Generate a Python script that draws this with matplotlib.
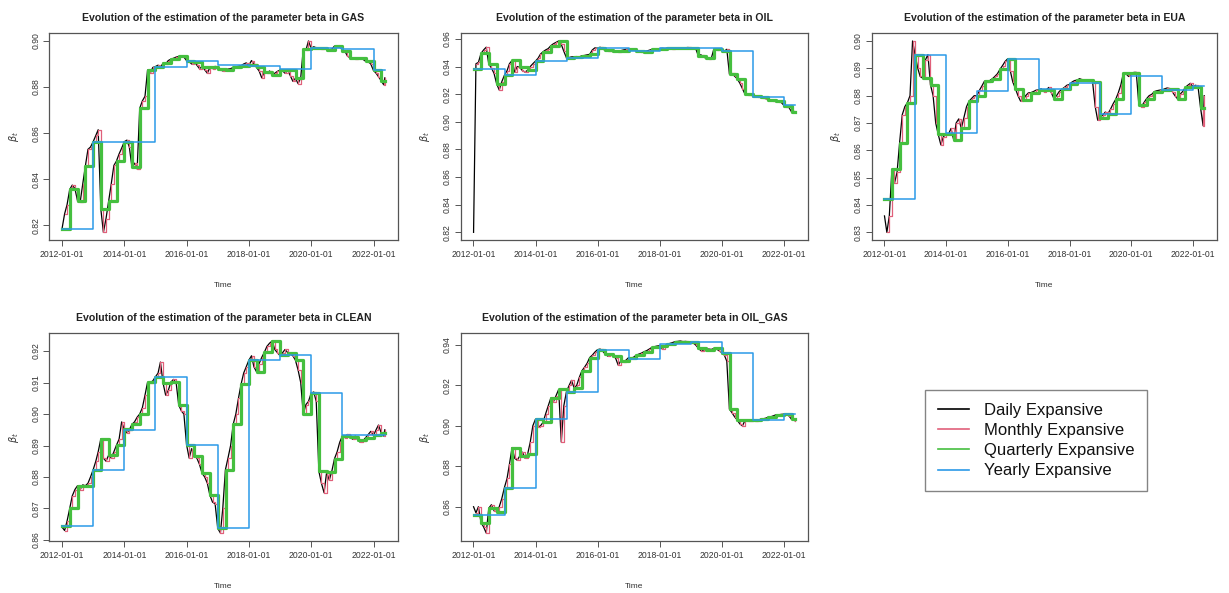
import numpy as np
import pandas as pd
import matplotlib
matplotlib.use('Agg')
import matplotlib.pyplot as plt
import matplotlib.dates as mdates
from matplotlib.lines import Line2D
from matplotlib.ticker import MultipleLocator, FormatStrFormatter

plt.rcParams['font.family'] = ['Liberation Sans', 'DejaVu Sans']

# first observation, month ends, last observation
daily_dates = (pd.DatetimeIndex(['2012-01-03'])
               .append(pd.date_range('2012-01-31', '2022-04-30', freq='ME'))
               .append(pd.DatetimeIndex(['2022-05-13'])))
quarter_dates = (pd.DatetimeIndex(['2012-01-03'])
                 .append(pd.date_range('2012-04-01', '2022-04-01', freq='QS')))
year_dates = (pd.DatetimeIndex(['2012-01-03'])
              .append(pd.date_range('2013-01-01', '2022-01-01', freq='YS')))
end_date = pd.Timestamp('2022-05-13')

# ---------------- GAS ----------------
gas_daily = [
    0.8190,
    0.8250, 0.8290, 0.8356, 0.8375, 0.8360, 0.8308, 0.8300, 0.8380, 0.8456, 0.8530, 0.8540, 0.8563,
    0.8590, 0.8615, 0.8271, 0.8170, 0.8230, 0.8304, 0.8380, 0.8460, 0.8479, 0.8510, 0.8535, 0.8563,
    0.8570, 0.8540, 0.8452, 0.8470, 0.8445, 0.8708, 0.8740, 0.8760, 0.8874, 0.8860, 0.8885, 0.8889,
    0.8895, 0.8885, 0.8904, 0.8900, 0.8915, 0.8921, 0.8925, 0.8930, 0.8933, 0.8935, 0.8930, 0.8915,
    0.8910, 0.8900, 0.8910, 0.8895, 0.8880, 0.8889, 0.8875, 0.8860, 0.8885, 0.8880, 0.8890, 0.8878,
    0.8875, 0.8870, 0.8872, 0.8878, 0.8880, 0.8885, 0.8888, 0.8890, 0.8893, 0.8900, 0.8905, 0.8895,
    0.8915, 0.8900, 0.8885, 0.8870, 0.8840, 0.8866, 0.8860, 0.8870, 0.8852, 0.8860, 0.8868, 0.8874,
    0.8870, 0.8860, 0.8873, 0.8850, 0.8825, 0.8838, 0.8815, 0.8840, 0.8965, 0.8960, 0.9000, 0.8968,
    0.8975, 0.8970, 0.8968, 0.8965, 0.8970, 0.8962, 0.8962, 0.8965, 0.8978, 0.8975, 0.8980, 0.8958,
    0.8955, 0.8935, 0.8927, 0.8925, 0.8922, 0.8926, 0.8924, 0.8920, 0.8912, 0.8910, 0.8900, 0.8872,
    0.8860, 0.8845, 0.8828, 0.8810, 0.8840,
]
gas_quarterly = [
    0.8185, 0.8356, 0.8308, 0.8456,
    0.8563, 0.8271, 0.8304, 0.8479,
    0.8563, 0.8452, 0.8708, 0.8874,
    0.8889, 0.8904, 0.8921, 0.8933,
    0.8915, 0.8910, 0.8889, 0.8885,
    0.8878, 0.8872, 0.8885, 0.8893,
    0.8895, 0.8885, 0.8866, 0.8852,
    0.8874, 0.8873, 0.8838, 0.8965,
    0.8968, 0.8968, 0.8962, 0.8978,
    0.8958, 0.8927, 0.8926, 0.8912,
    0.8872, 0.8828,
]
gas_yearly = [0.8185, 0.8563, 0.8563, 0.8889, 0.8915, 0.8895,
              0.8893, 0.8878, 0.8970, 0.8963, 0.8873]

# ---------------- OIL ----------------
oil_daily = [
    0.8200,
    0.9420, 0.9430, 0.9495, 0.9520, 0.9540, 0.9417, 0.9390, 0.9350, 0.9276, 0.9230, 0.9290, 0.9337,
    0.9370, 0.9420, 0.9444, 0.9360, 0.9400, 0.9393, 0.9370, 0.9360, 0.9373, 0.9400, 0.9420, 0.9439,
    0.9460, 0.9490, 0.9507, 0.9520, 0.9530, 0.9551, 0.9565, 0.9575, 0.9585, 0.9560, 0.9510, 0.9463,
    0.9465, 0.9470, 0.9471, 0.9472, 0.9470, 0.9478, 0.9480, 0.9485, 0.9488, 0.9520, 0.9535, 0.9532,
    0.9540, 0.9525, 0.9520, 0.9515, 0.9512, 0.9512, 0.9510, 0.9505, 0.9515, 0.9520, 0.9525, 0.9527,
    0.9525, 0.9520, 0.9515, 0.9510, 0.9505, 0.9507, 0.9512, 0.9518, 0.9524, 0.9526, 0.9528, 0.9530,
    0.9532, 0.9530, 0.9532, 0.9533, 0.9530, 0.9532, 0.9533, 0.9534, 0.9534, 0.9536, 0.9538, 0.9532,
    0.9535, 0.9530, 0.9478, 0.9485, 0.9470, 0.9459, 0.9455, 0.9460, 0.9527, 0.9520, 0.9525, 0.9515,
    0.9510, 0.9525, 0.9346, 0.9350, 0.9330, 0.9312, 0.9280, 0.9240, 0.9200, 0.9195, 0.9192, 0.9190,
    0.9185, 0.9182, 0.9176, 0.9172, 0.9168, 0.9159, 0.9155, 0.9152, 0.9149, 0.9145, 0.9140, 0.9120,
    0.9110, 0.9105, 0.9073, 0.9075, 0.9072,
]
oil_quarterly = [
    0.9380, 0.9495, 0.9417, 0.9276,
    0.9337, 0.9444, 0.9393, 0.9373,
    0.9439, 0.9507, 0.9551, 0.9585,
    0.9463, 0.9471, 0.9478, 0.9488,
    0.9532, 0.9520, 0.9512, 0.9515,
    0.9527, 0.9515, 0.9507, 0.9524,
    0.9530, 0.9532, 0.9532, 0.9534,
    0.9532, 0.9478, 0.9459, 0.9527,
    0.9515, 0.9346, 0.9312, 0.9200,
    0.9190, 0.9176, 0.9159, 0.9149,
    0.9117, 0.9073,
]
oil_yearly = [0.9380, 0.9339, 0.9441, 0.9463, 0.9532, 0.9515,
              0.9532, 0.9532, 0.9512, 0.9183, 0.9122]

# ---------------- EUA ----------------
eua_daily = [
    0.8360,
    0.8300, 0.8360, 0.8531, 0.8480, 0.8520, 0.8628, 0.8730, 0.8760, 0.8774, 0.8800, 0.9000, 0.8948,
    0.8900, 0.8870, 0.8864, 0.8930, 0.8950, 0.8840, 0.8800, 0.8700, 0.8658, 0.8620, 0.8650, 0.8658,
    0.8660, 0.8680, 0.8639, 0.8700, 0.8715, 0.8680, 0.8720, 0.8760, 0.8780, 0.8790, 0.8800, 0.8799,
    0.8820, 0.8835, 0.8853, 0.8850, 0.8855, 0.8861, 0.8870, 0.8880, 0.8896, 0.8910, 0.8925, 0.8935,
    0.8890, 0.8850, 0.8826, 0.8800, 0.8780, 0.8784, 0.8800, 0.8810, 0.8811, 0.8815, 0.8820, 0.8821,
    0.8825, 0.8815, 0.8821, 0.8830, 0.8810, 0.8789, 0.8800, 0.8815, 0.8823, 0.8830, 0.8838, 0.8841,
    0.8850, 0.8855, 0.8857, 0.8862, 0.8858, 0.8857, 0.8855, 0.8853, 0.8851, 0.8760, 0.8710, 0.8720,
    0.8730, 0.8740, 0.8734, 0.8750, 0.8770, 0.8786, 0.8810, 0.8840, 0.8883, 0.8880, 0.8870, 0.8878,
    0.8885, 0.8885, 0.8765, 0.8760, 0.8775, 0.8789, 0.8800, 0.8805, 0.8815, 0.8818, 0.8820, 0.8821,
    0.8825, 0.8828, 0.8826, 0.8815, 0.8800, 0.8789, 0.8805, 0.8815, 0.8830, 0.8838, 0.8845, 0.8833,
    0.8838, 0.8835, 0.8755, 0.8690, 0.8800,
]
eua_quarterly = [
    0.8422, 0.8531, 0.8628, 0.8774,
    0.8948, 0.8864, 0.8840, 0.8658,
    0.8658, 0.8639, 0.8680, 0.8780,
    0.8799, 0.8853, 0.8861, 0.8896,
    0.8935, 0.8826, 0.8784, 0.8811,
    0.8821, 0.8821, 0.8789, 0.8823,
    0.8841, 0.8857, 0.8857, 0.8851,
    0.8720, 0.8734, 0.8786, 0.8883,
    0.8883, 0.8765, 0.8789, 0.8815,
    0.8821, 0.8826, 0.8789, 0.8830,
    0.8833, 0.8755,
]
eua_yearly = [0.8422, 0.8948, 0.8662, 0.8816, 0.8935, 0.8823,
              0.8845, 0.8733, 0.8873, 0.8821, 0.8836]

# ---------------- CLEAN ----------------
clean_daily = [
    0.8640,
    0.8630, 0.8660, 0.8700, 0.8740, 0.8760, 0.8772, 0.8760, 0.8775, 0.8772, 0.8780, 0.8800, 0.8823,
    0.8850, 0.8880, 0.8921, 0.8860, 0.8850, 0.8869, 0.8860, 0.8880, 0.8901, 0.8920, 0.8975, 0.8951,
    0.8940, 0.8950, 0.8967, 0.8975, 0.8990, 0.9000, 0.9020, 0.9060, 0.9101, 0.9100, 0.9105, 0.9118,
    0.9130, 0.9165, 0.9098, 0.9060, 0.9075, 0.9101, 0.9110, 0.9100, 0.9029, 0.9010, 0.9000, 0.8903,
    0.8860, 0.8890, 0.8866, 0.8860, 0.8840, 0.8812, 0.8800, 0.8780, 0.8742, 0.8720, 0.8715, 0.8637,
    0.8622, 0.8700, 0.8823, 0.8860, 0.8900, 0.8967, 0.9000, 0.9050, 0.9094, 0.9130, 0.9150, 0.9171,
    0.9185, 0.9150, 0.9134, 0.9160, 0.9180, 0.9196, 0.9215, 0.9225, 0.9232, 0.9205, 0.9195, 0.9186,
    0.9195, 0.9205, 0.9195, 0.9190, 0.9185, 0.9171, 0.9140, 0.9100, 0.9000, 0.9030, 0.9040, 0.9066,
    0.9070, 0.9040, 0.8818, 0.8780, 0.8750, 0.8815, 0.8790, 0.8820, 0.8858, 0.8880, 0.8910, 0.8930,
    0.8925, 0.8935, 0.8927, 0.8920, 0.8930, 0.8917, 0.8910, 0.8915, 0.8925, 0.8935, 0.8945, 0.8932,
    0.8950, 0.8965, 0.8941, 0.8930, 0.8950,
]
clean_quarterly = [
    0.8643, 0.8700, 0.8772, 0.8772,
    0.8823, 0.8921, 0.8869, 0.8901,
    0.8951, 0.8967, 0.9000, 0.9101,
    0.9118, 0.9098, 0.9101, 0.9029,
    0.8903, 0.8866, 0.8812, 0.8742,
    0.8637, 0.8823, 0.8967, 0.9094,
    0.9171, 0.9134, 0.9196, 0.9232,
    0.9186, 0.9195, 0.9171, 0.9000,
    0.9066, 0.8818, 0.8815, 0.8858,
    0.8930, 0.8927, 0.8917, 0.8925,
    0.8932, 0.8941,
]
clean_yearly = [0.8643, 0.8823, 0.8948, 0.9118, 0.8903, 0.8637,
                0.9171, 0.9186, 0.9066, 0.8932, 0.8932]

# ---------------- OIL_GAS ----------------
oilgas_daily = [
    0.8600,
    0.8570, 0.8600, 0.8522, 0.8500, 0.8470, 0.8593, 0.8610, 0.8580, 0.8575, 0.8600, 0.8640, 0.8695,
    0.8740, 0.8810, 0.8893, 0.8840, 0.8830, 0.8852, 0.8870, 0.8840, 0.8860, 0.8920, 0.9000, 0.9033,
    0.8995, 0.9000, 0.9018, 0.9060, 0.9100, 0.9138, 0.9120, 0.9150, 0.9180, 0.8920, 0.9100, 0.9170,
    0.9200, 0.9225, 0.9188, 0.9200, 0.9240, 0.9272, 0.9290, 0.9310, 0.9338, 0.9350, 0.9365, 0.9377,
    0.9380, 0.9370, 0.9355, 0.9345, 0.9350, 0.9347, 0.9335, 0.9300, 0.9322, 0.9318, 0.9325, 0.9338,
    0.9335, 0.9340, 0.9350, 0.9355, 0.9360, 0.9367, 0.9372, 0.9380, 0.9388, 0.9392, 0.9395, 0.9397,
    0.9380, 0.9395, 0.9405, 0.9408, 0.9412, 0.9417, 0.9418, 0.9420, 0.9417, 0.9418, 0.9416, 0.9413,
    0.9410, 0.9400, 0.9385, 0.9372, 0.9375, 0.9377, 0.9380, 0.9378, 0.9383, 0.9380, 0.9372, 0.9363,
    0.9350, 0.9320, 0.9083, 0.9065, 0.9045, 0.9030, 0.9010, 0.9000, 0.9027, 0.9022, 0.9025, 0.9027,
    0.9025, 0.9028, 0.9033, 0.9035, 0.9038, 0.9043, 0.9045, 0.9050, 0.9055, 0.9055, 0.9057, 0.9058,
    0.9058, 0.9050, 0.9033, 0.9030, 0.9025,
]
oilgas_quarterly = [
    0.8558, 0.8522, 0.8593, 0.8575,
    0.8695, 0.8893, 0.8852, 0.8860,
    0.9033, 0.9018, 0.9138, 0.9180,
    0.9170, 0.9188, 0.9272, 0.9338,
    0.9377, 0.9355, 0.9347, 0.9322,
    0.9338, 0.9350, 0.9367, 0.9388,
    0.9397, 0.9405, 0.9417, 0.9417,
    0.9413, 0.9385, 0.9377, 0.9383,
    0.9363, 0.9083, 0.9030, 0.9027,
    0.9027, 0.9033, 0.9043, 0.9055,
    0.9058, 0.9033,
]
oilgas_yearly = [0.8558, 0.8695, 0.9033, 0.9170, 0.9377, 0.9333,
                 0.9405, 0.9417, 0.9363, 0.9027, 0.9058]

names = ['GAS', 'OIL', 'EUA', 'CLEAN', 'OIL_GAS']
y_steps = [0.02, 0.02, 0.01, 0.01, 0.02]
series = [
    (gas_daily, gas_quarterly, gas_yearly),
    (oil_daily, oil_quarterly, oil_yearly),
    (eua_daily, eua_quarterly, eua_yearly),
    (clean_daily, clean_quarterly, clean_yearly),
    (oilgas_daily, oilgas_quarterly, oilgas_yearly),
]

col_black = '#000000'
col_red = '#E0607A'
col_green = '#45BF3F'
col_blue = '#2B9AE8'
frame = '#555555'
txt = '#333333'

W, H = 1229, 593
fig = plt.figure(figsize=(W / 100, H / 100), dpi=100)

# axes boxes in pixels: left, top, right, bottom
boxes = [(49.3, 33.3, 397.7, 240.0), (460.7, 33.3, 808.0, 240.0),
         (871.7, 33.3, 1217.0, 240.0),
         (49.3, 333.3, 397.7, 540.7), (460.7, 333.3, 808.0, 540.7)]


def held(dates, vals):
    x = list(dates) + [end_date]
    y = list(vals) + [vals[-1]]
    return x, y


tick_dates = pd.to_datetime(['2012-01-01', '2014-01-01', '2016-01-01',
                             '2018-01-01', '2020-01-01', '2022-01-01'])

for name, step, (daily, quarterly, yearly), (l, t, r, b) in zip(
        names, y_steps, series, boxes):
    ax = fig.add_axes([l / W, 1 - b / H, (r - l) / W, (b - t) / H])

    ax.plot(daily_dates, daily, color=col_black, lw=0.9)
    ax.plot(daily_dates[1:], daily[1:], color=col_red, lw=0.9,
            drawstyle='steps-post')
    qx, qy = held(quarter_dates, quarterly)
    ax.plot(qx, qy, color=col_green, lw=2.3, drawstyle='steps-post')
    yx, yy = held(year_dates, yearly)
    ax.plot(yx, yy, color=col_blue, lw=1.1, drawstyle='steps-post')

    ax.margins(x=0.04, y=0.04)
    ax.set_xticks(tick_dates)
    ax.xaxis.set_major_formatter(mdates.DateFormatter('%Y-%m-%d'))
    ax.yaxis.set_major_locator(MultipleLocator(step))
    ax.yaxis.set_major_formatter(FormatStrFormatter('%.2f'))
    for lab in ax.get_yticklabels():
        lab.set_rotation(90)
        lab.set_va('center')

    for sp in ax.spines.values():
        sp.set_color(frame)
        sp.set_linewidth(0.9)
    ax.tick_params(direction='out', length=4.3, width=0.7, color=frame,
                   labelsize=6.2, labelcolor=txt, pad=3)
    ax.tick_params(axis='y', pad=2)

    ax.set_title(f'Evolution of the estimation of the parameter beta in {name}',
                 fontsize=7.6, fontweight='bold', color='#222222', pad=9)
    ax.set_xlabel('Time', fontsize=6, color=txt)
    ax.xaxis.set_label_coords(0.5, -0.205)
    ax.set_ylabel(r'$\beta_t$', fontsize=7, color=txt)
    ax.yaxis.set_label_coords(-0.082, 0.5)

handles = [Line2D([], [], color=col_black, lw=1.2),
           Line2D([], [], color=col_red, lw=1.2),
           Line2D([], [], color=col_green, lw=1.2),
           Line2D([], [], color=col_blue, lw=1.2)]
labels = ['Daily Expansive', 'Monthly Expansive',
          'Quarterly Expansive', 'Yearly Expansive']
leg = fig.legend(handles, labels, loc='upper left',
                 bbox_to_anchor=(925 / W, 1 - 390 / H), borderaxespad=0,
                 fontsize=12, frameon=True, fancybox=False,
                 edgecolor='#666666', handlelength=1.9, handletextpad=0.9,
                 borderpad=0.75, labelspacing=0.32)
leg.get_frame().set_linewidth(1.0)
for t in leg.get_texts():
    t.set_color('#111111')

fig.savefig('out.png', dpi=100)
